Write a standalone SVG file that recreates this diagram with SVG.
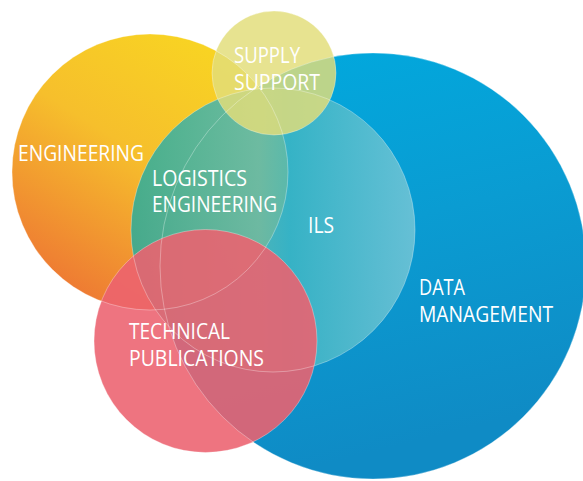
<svg xmlns="http://www.w3.org/2000/svg" width="583" height="481" viewBox="0 0 583 481">
<defs>
<linearGradient id="gBlue" x1="0" y1="0" x2="0.25" y2="1">
<stop offset="0" stop-color="#00AADF"/>
<stop offset="0.5" stop-color="#0A9CD2"/>
<stop offset="1" stop-color="#0F8BC5"/>
</linearGradient>
<linearGradient id="gEng" x1="0.78" y1="0.1" x2="0.25" y2="0.95">
<stop offset="0" stop-color="#F8D323"/>
<stop offset="0.45" stop-color="#F6BF2C"/>
<stop offset="1" stop-color="#EE7A33"/>
</linearGradient>
<linearGradient id="gIls" x1="0" y1="0" x2="1" y2="0">
<stop offset="0" stop-color="#28AC9B"/>
<stop offset="0.45" stop-color="#55B8B6"/>
<stop offset="0.56" stop-color="#3EB6C3"/>
<stop offset="1" stop-color="#76C6D6"/>
</linearGradient>
</defs>
<style>
.lbl{font-family:"Open Sans","Liberation Sans",sans-serif;font-size:21px;fill:#FFFFFF;}
.edge{fill:none;stroke:#FFFFFF;stroke-opacity:0.4;stroke-width:0.8;}
</style>
<rect width="583" height="481" fill="#FFFFFF"/>
<g id="data-management">
<circle cx="373" cy="266" r="213" fill="url(#gBlue)"/>
<text class="lbl" x="419" y="295" textLength="46" lengthAdjust="spacingAndGlyphs">DATA</text>
<text class="lbl" x="419" y="322" textLength="134" lengthAdjust="spacingAndGlyphs">MANAGEMENT</text>
</g>
<g id="engineering">
<circle cx="150" cy="172" r="138" fill="url(#gEng)"/>
<text class="lbl" x="18" y="161" textLength="126" lengthAdjust="spacingAndGlyphs">ENGINEERING</text>
</g>
<g id="ils">
<circle cx="273" cy="230" r="142" fill="url(#gIls)" fill-opacity="0.85"/>
<text class="lbl" x="152" y="186" textLength="95" lengthAdjust="spacingAndGlyphs">LOGISTICS</text>
<text class="lbl" x="152" y="212" textLength="125" lengthAdjust="spacingAndGlyphs">ENGINEERING</text>
<text class="lbl" x="308" y="233" textLength="26" lengthAdjust="spacingAndGlyphs">ILS</text>
</g>
<g id="technical-publications">
<circle cx="205.5" cy="341" r="111.5" fill="#EC6270" fill-opacity="0.886"/>
<text class="lbl" x="129" y="339" textLength="101" lengthAdjust="spacingAndGlyphs">TECHNICAL</text>
<text class="lbl" x="129" y="366" textLength="135" lengthAdjust="spacingAndGlyphs">PUBLICATIONS</text>
</g>
<g id="supply-support">
<circle cx="274" cy="73" r="62" fill="#E2DD7A" fill-opacity="0.83"/>
<text class="lbl" x="234" y="63" textLength="66" lengthAdjust="spacingAndGlyphs">SUPPLY</text>
<text class="lbl" x="234" y="90" textLength="86" lengthAdjust="spacingAndGlyphs">SUPPORT</text>
</g>
<g id="outlines">
<circle class="edge" cx="373" cy="266" r="213"/>
<circle class="edge" cx="150" cy="172" r="138"/>
<circle class="edge" cx="273" cy="230" r="142"/>
<circle class="edge" cx="205.5" cy="341" r="111.5"/>
<circle class="edge" cx="274" cy="73" r="62"/>
</g>
<g id="connectors"/>
</svg>
